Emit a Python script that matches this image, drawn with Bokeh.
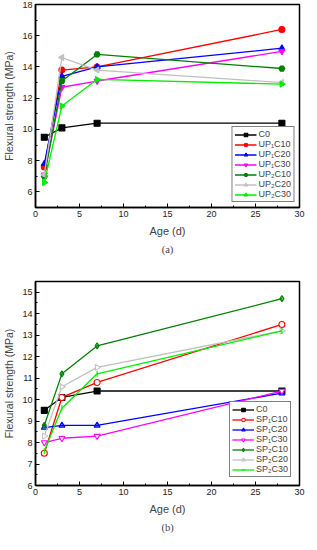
import math
from bokeh.plotting import figure
from bokeh.layouts import column
from bokeh.models import Title, Range1d, SingleIntervalTicker
from bokeh.embed import file_html
from bokeh.resources import INLINE

ages = [1, 3, 7, 28]

# Panel (a)
a_labels = ["C0", "UP₁C10", "UP₁C20", "UP₁C30", "UP₂C10", "UP₂C20", "UP₂C30"]
a_C0 = [9.5, 10.1, 10.4, 10.4]
a_UP1C10 = [7.6, 13.8, 14.0, 16.4]
a_UP1C20 = [7.8, 13.4, 14.0, 15.2]
a_UP1C30 = [7.1, 12.7, 13.1, 15.0]
a_UP2C10 = [7.0, 13.1, 14.8, 13.9]
a_UP2C20 = [7.1, 14.6, 13.8, 13.0]
a_UP2C30 = [6.6, 11.5, 13.2, 12.9]

# Panel (b)
b_labels = ["C0", "SP₁C10", "SP₁C20", "SP₁C30", "SP₂C10", "SP₂C20", "SP₂C30"]
b_C0 = [9.5, 10.1, 10.4, 10.4]
b_SP1C10 = [7.5, 10.1, 10.8, 13.5]
b_SP1C20 = [8.7, 8.8, 8.8, 10.3]
b_SP1C30 = [8.0, 8.2, 8.3, 10.4]
b_SP2C10 = [8.8, 11.2, 12.5, 14.7]
b_SP2C20 = [8.3, 10.6, 11.5, 13.2]
b_SP2C30 = [7.6, 9.6, 11.2, 13.2]

colors = ["#000000", "#ff0000", "#0000ff", "#ff00ff", "#008000", "#c0c0c0", "#00ee00"]

SANS = "Liberation Sans"
SERIF = "Liberation Serif"


def make_fig(height, y_start, y_end, y_major, border_top, caption):
    p = figure(width=307, height=height, output_backend="svg", toolbar_location=None,
               x_range=Range1d(0, 30), y_range=Range1d(y_start, y_end),
               min_border_left=24, min_border_right=8, min_border_top=border_top,
               min_border_bottom=0)
    p.grid.visible = False
    p.outline_line_color = "black"
    p.outline_line_width = 1.5
    p.background_fill_color = "white"
    p.border_fill_color = "white"
    p.xaxis.ticker = SingleIntervalTicker(interval=5, num_minor_ticks=2)
    p.yaxis.ticker = SingleIntervalTicker(interval=y_major, num_minor_ticks=2)
    for ax in (p.xaxis[0], p.yaxis[0]):
        ax.axis_line_width = 1.5
        ax.major_tick_in = 4
        ax.major_tick_out = 0
        ax.minor_tick_in = 2
        ax.minor_tick_out = 0
        ax.major_tick_line_width = 1
        ax.major_label_text_font = SANS
        ax.major_label_text_font_size = "9px"
        ax.major_label_text_color = "#222222"
        ax.axis_label_text_font = SANS
        ax.axis_label_text_font_style = "normal"
        ax.major_label_standoff = 3
    p.xaxis.axis_label = "Age (d)"
    p.xaxis.axis_label_text_font_size = "11px"
    p.xaxis.axis_label_standoff = 5
    p.yaxis.axis_label = "Flexural strength (MPa)"
    p.yaxis.axis_label_text_font_size = "10.5px"
    p.yaxis.axis_label_standoff = 4
    p.add_layout(Title(text=caption, align="center", text_font=SERIF,
                       text_font_size="10.5px", text_font_style="normal",
                       standoff=4, offset=0), "below")
    return p


def add_series(p, ys, label, color, marker, angle, fill, alpha):
    p.line(ages, ys, line_color=color, line_width=1.3, legend_label=label)
    p.scatter(ages, ys, marker=marker, size=6, angle=angle, line_color=color,
              fill_color=fill, fill_alpha=alpha, line_width=1.1, legend_label=label)


def style_legend(p, margin):
    lg = p.legend[0]
    lg.location = "bottom_right"
    lg.margin = margin
    lg.border_line_color = "black"
    lg.border_line_width = 1
    lg.label_text_font = SANS
    lg.label_text_font_size = "9px"
    lg.label_height = 9
    lg.glyph_height = 9
    lg.glyph_width = 22
    lg.spacing = 0
    lg.padding = 2
    lg.label_standoff = 2


p1 = make_fig(256, 5, 18, 2, 4, "(a)")
a_series = [a_C0, a_UP1C10, a_UP1C20, a_UP1C30, a_UP2C10, a_UP2C20, a_UP2C30]
a_markers = [("square", 0), ("circle", 0), ("triangle", 0), ("inverted_triangle", 0),
             ("hex", 0), ("triangle", math.pi / 2), ("triangle", -math.pi / 2)]
for ys, lab, c, (m, ang) in zip(a_series, a_labels, colors, a_markers):
    add_series(p1, ys, lab, c, m, ang, c, 1.0)
style_legend(p1, 5)

p2 = make_fig(278, 6, 15.5, 1, 25, "(b)")
b_series = [b_C0, b_SP1C10, b_SP1C20, b_SP1C30, b_SP2C10, b_SP2C20, b_SP2C30]
b_markers = [("square", 0, 1.0), ("circle", 0, 0.0), ("triangle", 0, 0.5),
             ("inverted_triangle", 0, 0.0), ("diamond", 0, 0.5),
             ("triangle", -math.pi / 2, 0.0), ("dash", math.pi / 2, 1.0)]
for ys, lab, c, (m, ang, al) in zip(b_series, b_labels, colors, b_markers):
    add_series(p2, ys, lab, c, m, ang, c if al > 0 else "white", al if al > 0 else 1.0)
style_legend(p2, 8)

layout = column(p1, p2, spacing=0)
open("out.html", "w").write(file_html(layout, INLINE))
